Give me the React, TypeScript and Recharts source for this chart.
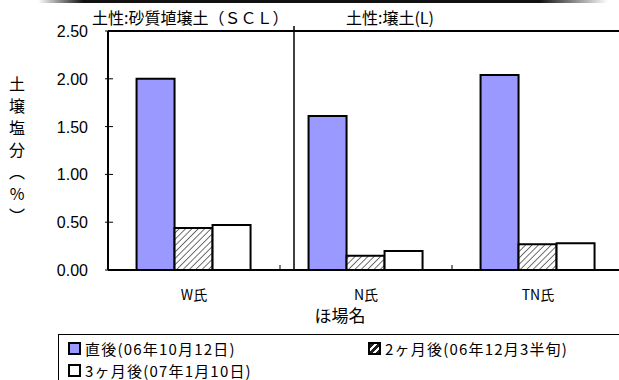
import React from "react";
import {
  BarChart,
  Bar,
  XAxis,
  YAxis,
  Legend,
  ReferenceLine,
} from "recharts";

// 土壌塩分 (%) by field and sampling date
const sites = ["W氏", "N氏", "TN氏"];
const justAfter = [2.0, 1.61, 2.04];
const twoMonths = [0.44, 0.15, 0.27];
const threeMonths = [0.47, 0.2, 0.28];
const yTicks = [0, 0.5, 1.0, 1.5, 2.0, 2.5];
const seriesKeys = ["a", "b", "c"];
const seriesNames = [
  "直後(06年10月12日)",
  "2ヶ月後(06年12月3半旬)",
  "3ヶ月後(07年1月10日)",
];

const data = sites.map((site, i) => ({
  site,
  a: justAfter[i],
  b: twoMonths[i],
  c: threeMonths[i],
}));

const JP = '"Noto Sans CJK JP", "Noto Sans", sans-serif';
const BLUE = "#9999ff";

// y ticks: number plus a short mark crossing the axis line
const YTick = (props: any) => {
  const { x, y, payload } = props;
  const axisX = x + 20;
  return (
    <g>
      <line x1={axisX - 3} y1={y} x2={axisX + 5} y2={y} stroke="#000" strokeWidth={1} />
      <text
        x={x}
        y={y}
        dy={6}
        textAnchor="end"
        fontFamily='"Liberation Sans", Arial, sans-serif'
        fontSize={16}
        fill="#000"
      >
        {Number(payload.value).toFixed(2)}
      </text>
    </g>
  );
};

const swatch = (key: string): React.CSSProperties => {
  const base: React.CSSProperties = {
    display: "inline-block",
    width: 9,
    height: 9,
    border: "2px solid #000",
    marginRight: 4,
    verticalAlign: "middle",
    position: "relative",
    top: -2,
  };
  if (key === "a") return { ...base, background: BLUE };
  if (key === "b")
    return {
      ...base,
      background:
        "repeating-linear-gradient(135deg, #222 0 3px, #fff 3px 5px)",
    };
  return { ...base, background: "#fff" };
};

const LegendBox = (props: any) => {
  const entries = props.payload || [];
  const cell = (key: string) => {
    const e = entries.find((p: any) => p.dataKey === key);
    const label = e ? e.value : seriesNames[seriesKeys.indexOf(key)];
    return (
      <span style={{ whiteSpace: "nowrap" }}>
        <span style={swatch(key)} />
        {label}
      </span>
    );
  };
  return (
    <div
      style={{
        borderTop: "1px solid #000",
        borderLeft: "1px solid #000",
        height: 46,
        boxSizing: "border-box",
        padding: "3px 0 0 9px",
        fontFamily: JP,
        fontSize: 15,
        letterSpacing: 1.2,
        lineHeight: "22px",
        color: "#000",
        position: "relative",
      }}
    >
      <div>{cell("a")}</div>
      <div>{cell("c")}</div>
      <div style={{ position: "absolute", left: 309, top: 3 }}>{cell("b")}</div>
    </div>
  );
};

const yLabel = ["土", "壌", "塩", "分", "︵", "%", "︶"];

const titleStyle: React.CSSProperties = {
  position: "absolute",
  top: 7,
  fontFamily: JP,
  fontSize: 16,
  lineHeight: "20px",
  whiteSpace: "nowrap",
};

export default function App() {
  return (
    <div
      style={{
        position: "absolute",
        left: 0,
        top: 0,
        width: 619,
        height: 380,
        overflow: "hidden",
        background: "#fff",
      }}
    >
      <div
        style={{
          position: "absolute",
          left: 38,
          top: 0,
          width: 570,
          height: 3,
          background:
            "linear-gradient(to right, rgba(0,0,0,0), #111 8%, #111 88%, rgba(0,0,0,0))",
        }}
      />
      <div style={{ ...titleStyle, left: 92 }}>土性:砂質埴壌土（ＳＣＬ）</div>
      <div style={{ ...titleStyle, left: 346 }}>土性:壌土(L)</div>
      <div
        style={{
          position: "absolute",
          left: 8,
          top: 72,
          width: 18,
          fontFamily: JP,
          fontSize: 16,
          lineHeight: "22px",
          textAlign: "center",
        }}
      >
        {yLabel.map((ch, i) => (
          <div key={i}>{ch}</div>
        ))}
      </div>
      <BarChart
        width={640}
        height={380}
        data={data}
        margin={{ top: 31, right: 16, left: 48, bottom: 14 }}
        barCategoryGap="16.6%"
        barGap={0}
      >
        <defs>
          <pattern
            id="hatch"
            width={4.5}
            height={4.5}
            patternUnits="userSpaceOnUse"
            patternTransform="rotate(45)"
          >
            <rect width={4.5} height={4.5} fill="#fff" />
            <line x1={0} y1={0} x2={0} y2={4.5} stroke="#333" strokeWidth={1.4} />
          </pattern>
        </defs>
        <XAxis
          dataKey="site"
          height={50}
          axisLine={{ stroke: "#000", strokeWidth: 2 }}
          tickLine={false}
          tick={{ fontFamily: JP, fontSize: 14, fill: "#000" }}
          tickMargin={14}
          label={{
            value: "ほ場名",
            position: "insideBottom",
            offset: -2,
            dx: -26,
            style: { fontFamily: JP, fontSize: 17, fill: "#000" },
          }}
        />
        <YAxis
          width={60}
          domain={[0, 2.5]}
          ticks={yTicks}
          interval={0}
          axisLine={{ stroke: "#000", strokeWidth: 2 }}
          tickLine={false}
          tickSize={0}
          tickMargin={20}
          tick={<YTick />}
        />
        <ReferenceLine y={2.5} stroke="#000" strokeWidth={2} />
        {/* soil-type divider between W and N */}
        <ReferenceLine
          x="N氏"
          position="start"
          shape={(p: any) => (
            <line
              x1={p.x1 + 14}
              y1={p.y1}
              x2={p.x2 + 14}
              y2={p.y2 - 5}
              stroke="#000"
              strokeWidth={1.5}
            />
          )}
        />
        {["N氏", "TN氏"].map((s) => (
          <ReferenceLine
            key={s}
            x={s}
            position="start"
            shape={(p: any) => (
              <line
                x1={p.x1}
                y1={Math.max(p.y1, p.y2) - 5}
                x2={p.x2}
                y2={Math.max(p.y1, p.y2)}
                stroke="#000"
                strokeWidth={1}
              />
            )}
          />
        ))}
        <Legend
          verticalAlign="bottom"
          align="left"
          height={46}
          content={<LegendBox />}
          wrapperStyle={{ top: 334, left: 58, bottom: "auto", width: 600 }}
        />
        <Bar
          dataKey="a"
          name={seriesNames[0]}
          fill={BLUE}
          stroke="#000"
          strokeWidth={2}
          isAnimationActive={false}
        />
        <Bar
          dataKey="b"
          name={seriesNames[1]}
          fill="url(#hatch)"
          stroke="#000"
          strokeWidth={2}
          isAnimationActive={false}
        />
        <Bar
          dataKey="c"
          name={seriesNames[2]}
          fill="#fff"
          stroke="#000"
          strokeWidth={2}
          isAnimationActive={false}
        />
      </BarChart>
    </div>
  );
}
